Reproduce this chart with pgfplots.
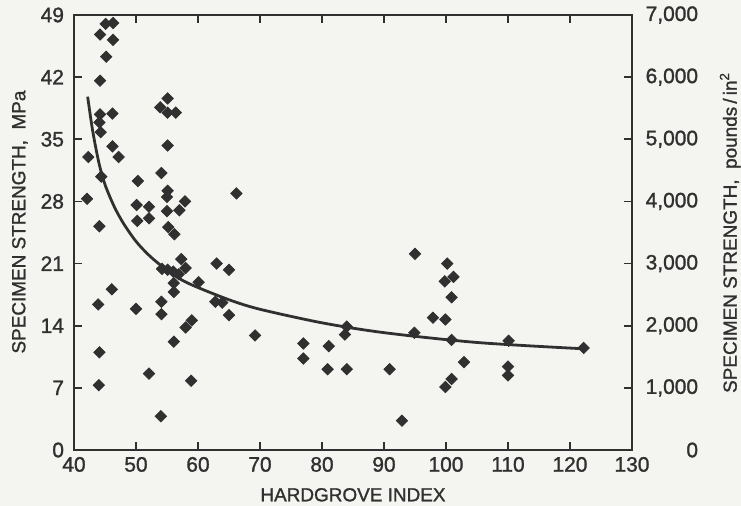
\documentclass[border=0pt]{standalone}
\usepackage{fontspec}
\setmainfont{Liberation Sans}
\newfontfamily\plotfont{Liberation Sans}[FakeBold=1.3]
\usepackage{pgfplots}
\usepackage{pgfplotstable}
\pgfplotsset{compat=1.18}
\usetikzlibrary{backgrounds}

\definecolor{ink}{RGB}{48,48,48}
\definecolor{paper}{RGB}{244,244,240}

% hardgrove index vs specimen strength (MPa)
\pgfplotstableread{
hgi  mpa
46.3 48.1
45.1 48.0
44.2 46.8
46.3 46.2
45.2 44.3
44.2 41.6
55.1 39.6
53.9 38.6
55.1 38.0
56.4 38.0
44.2 37.8
46.2 37.9
44.1 36.9
44.3 35.8
55.1 34.3
46.2 34.2
42.3 33.0
47.2 33.0
44.4 30.8
54.1 31.2
50.3 30.3
42.1 28.3
55.1 29.2
55.0 28.5
66.2 28.9
57.9 28.0
50.1 27.6
52.1 27.4
55.0 26.9
57.0 27.0
50.2 25.8
52.1 26.1
55.2 25.1
44.1 25.2
56.2 24.3
57.3 21.5
58.0 20.5
54.2 20.4
55.1 20.3
56.0 20.1
56.9 19.8
56.1 18.8
56.1 17.8
60.1 18.9
63.0 21.0
65.0 20.3
62.8 16.7
63.9 16.6
65.0 15.2
46.1 18.1
43.9 16.4
50.0 15.9
54.1 16.7
54.1 15.3
59.0 14.6
58.0 13.8
56.1 12.2
44.1 11.0
52.1 8.6
58.9 7.8
44.0 7.3
54.0 3.8
69.2 12.9
77.0 12.0
77.0 10.3
81.1 11.7
80.9 9.1
84.0 9.1
84.0 13.9
83.7 13.0
90.9 9.1
95.0 22.1
100.2 21.0
101.2 19.5
99.8 19.0
100.9 17.2
97.9 14.9
99.9 14.7
94.9 13.2
100.9 12.4
110.1 12.3
102.9 9.9
100.9 8.0
99.9 7.1
110.0 9.4
110.0 8.4
92.9 3.3
122.2 11.5
}\specimens

% fitted curve
\pgfplotstableread{
hgi  mpa
42.2 39.8
43.0 36.0
44.0 32.4
45.0 29.9
46.5 27.4
48.0 25.5
50.0 23.5
52.0 22.0
54.0 20.8
57.0 19.3
60.0 18.3
65.5 16.8
70.3 15.8
80.2 14.3
90.2 13.2
105.2 12.1
122.2 11.4
}\fitcurve

\pgfplotsset{
  hgi/.style={
    scale only axis, width=279bp, height=217.5bp,
    xmin=40, xmax=130,
    tick align=inside, major tick length=4bp,
    axis line style={ink, line width=0.9pt},
    every tick/.style={ink, line width=0.8pt},
    tick label style={font=\plotfont\fontsize{10.5}{12}\selectfont, text=ink},
    label style={font=\plotfont\fontsize{9.5}{11}\selectfont, text=ink},
    /pgf/number format/assume math mode=true,
    scaled ticks=false,
    clip=false,
  }
}

\begin{document}
\begin{tikzpicture}[show background rectangle,
  background rectangle/.style={fill=paper, draw=none}, inner frame sep=0pt]
  \begin{axis}[hgi,
    ymin=0, ymax=49,
    xtick={40,50,...,130}, ytick={0,7,...,49},
    ytick pos=left, xtick pos=both, xticklabel pos=bottom,
    yticklabel style={xshift=-1.5bp},
    xlabel={HARDGROVE INDEX},
    ylabel={SPECIMEN STRENGTH,\ \ MPa},
    xlabel style={at={(axis description cs:0.5,-0.103)}, anchor=center},
    ylabel style={at={(axis description cs:-0.097,0.524)}, anchor=center, rotate=0}]
    \coordinate (sw) at (rel axis cs:0,0);
    \coordinate (ne) at (rel axis cs:1,1);
    \addplot[only marks, mark=square*, mark size=2bp,
      mark options={rotate=45, draw=ink, fill=ink}] table[x=hgi, y=mpa] {\specimens};
    \addplot[smooth, tension=0.5, ink, line width=1.4pt] table[x=hgi, y=mpa] {\fitcurve};
  \end{axis}
  \begin{axis}[hgi,
    axis y line*=right, axis x line=none,
    ymin=0, ymax=7000, ytick={0,1000,...,7000},
    yticklabel style={text width=29bp, align=right, xshift=0.5bp},
    ylabel={SPECIMEN STRENGTH,\ \ pounds\,/\,in\textsuperscript{2}},
    ylabel style={at={(axis description cs:1.176,0.5)}, anchor=center, rotate=0}]
  \end{axis}
  \pgfresetboundingbox
  \path ([xshift=-37bp,yshift=-28bp]sw) rectangle ([xshift=54.5bp,yshift=7.5bp]ne);
\end{tikzpicture}
\end{document}
